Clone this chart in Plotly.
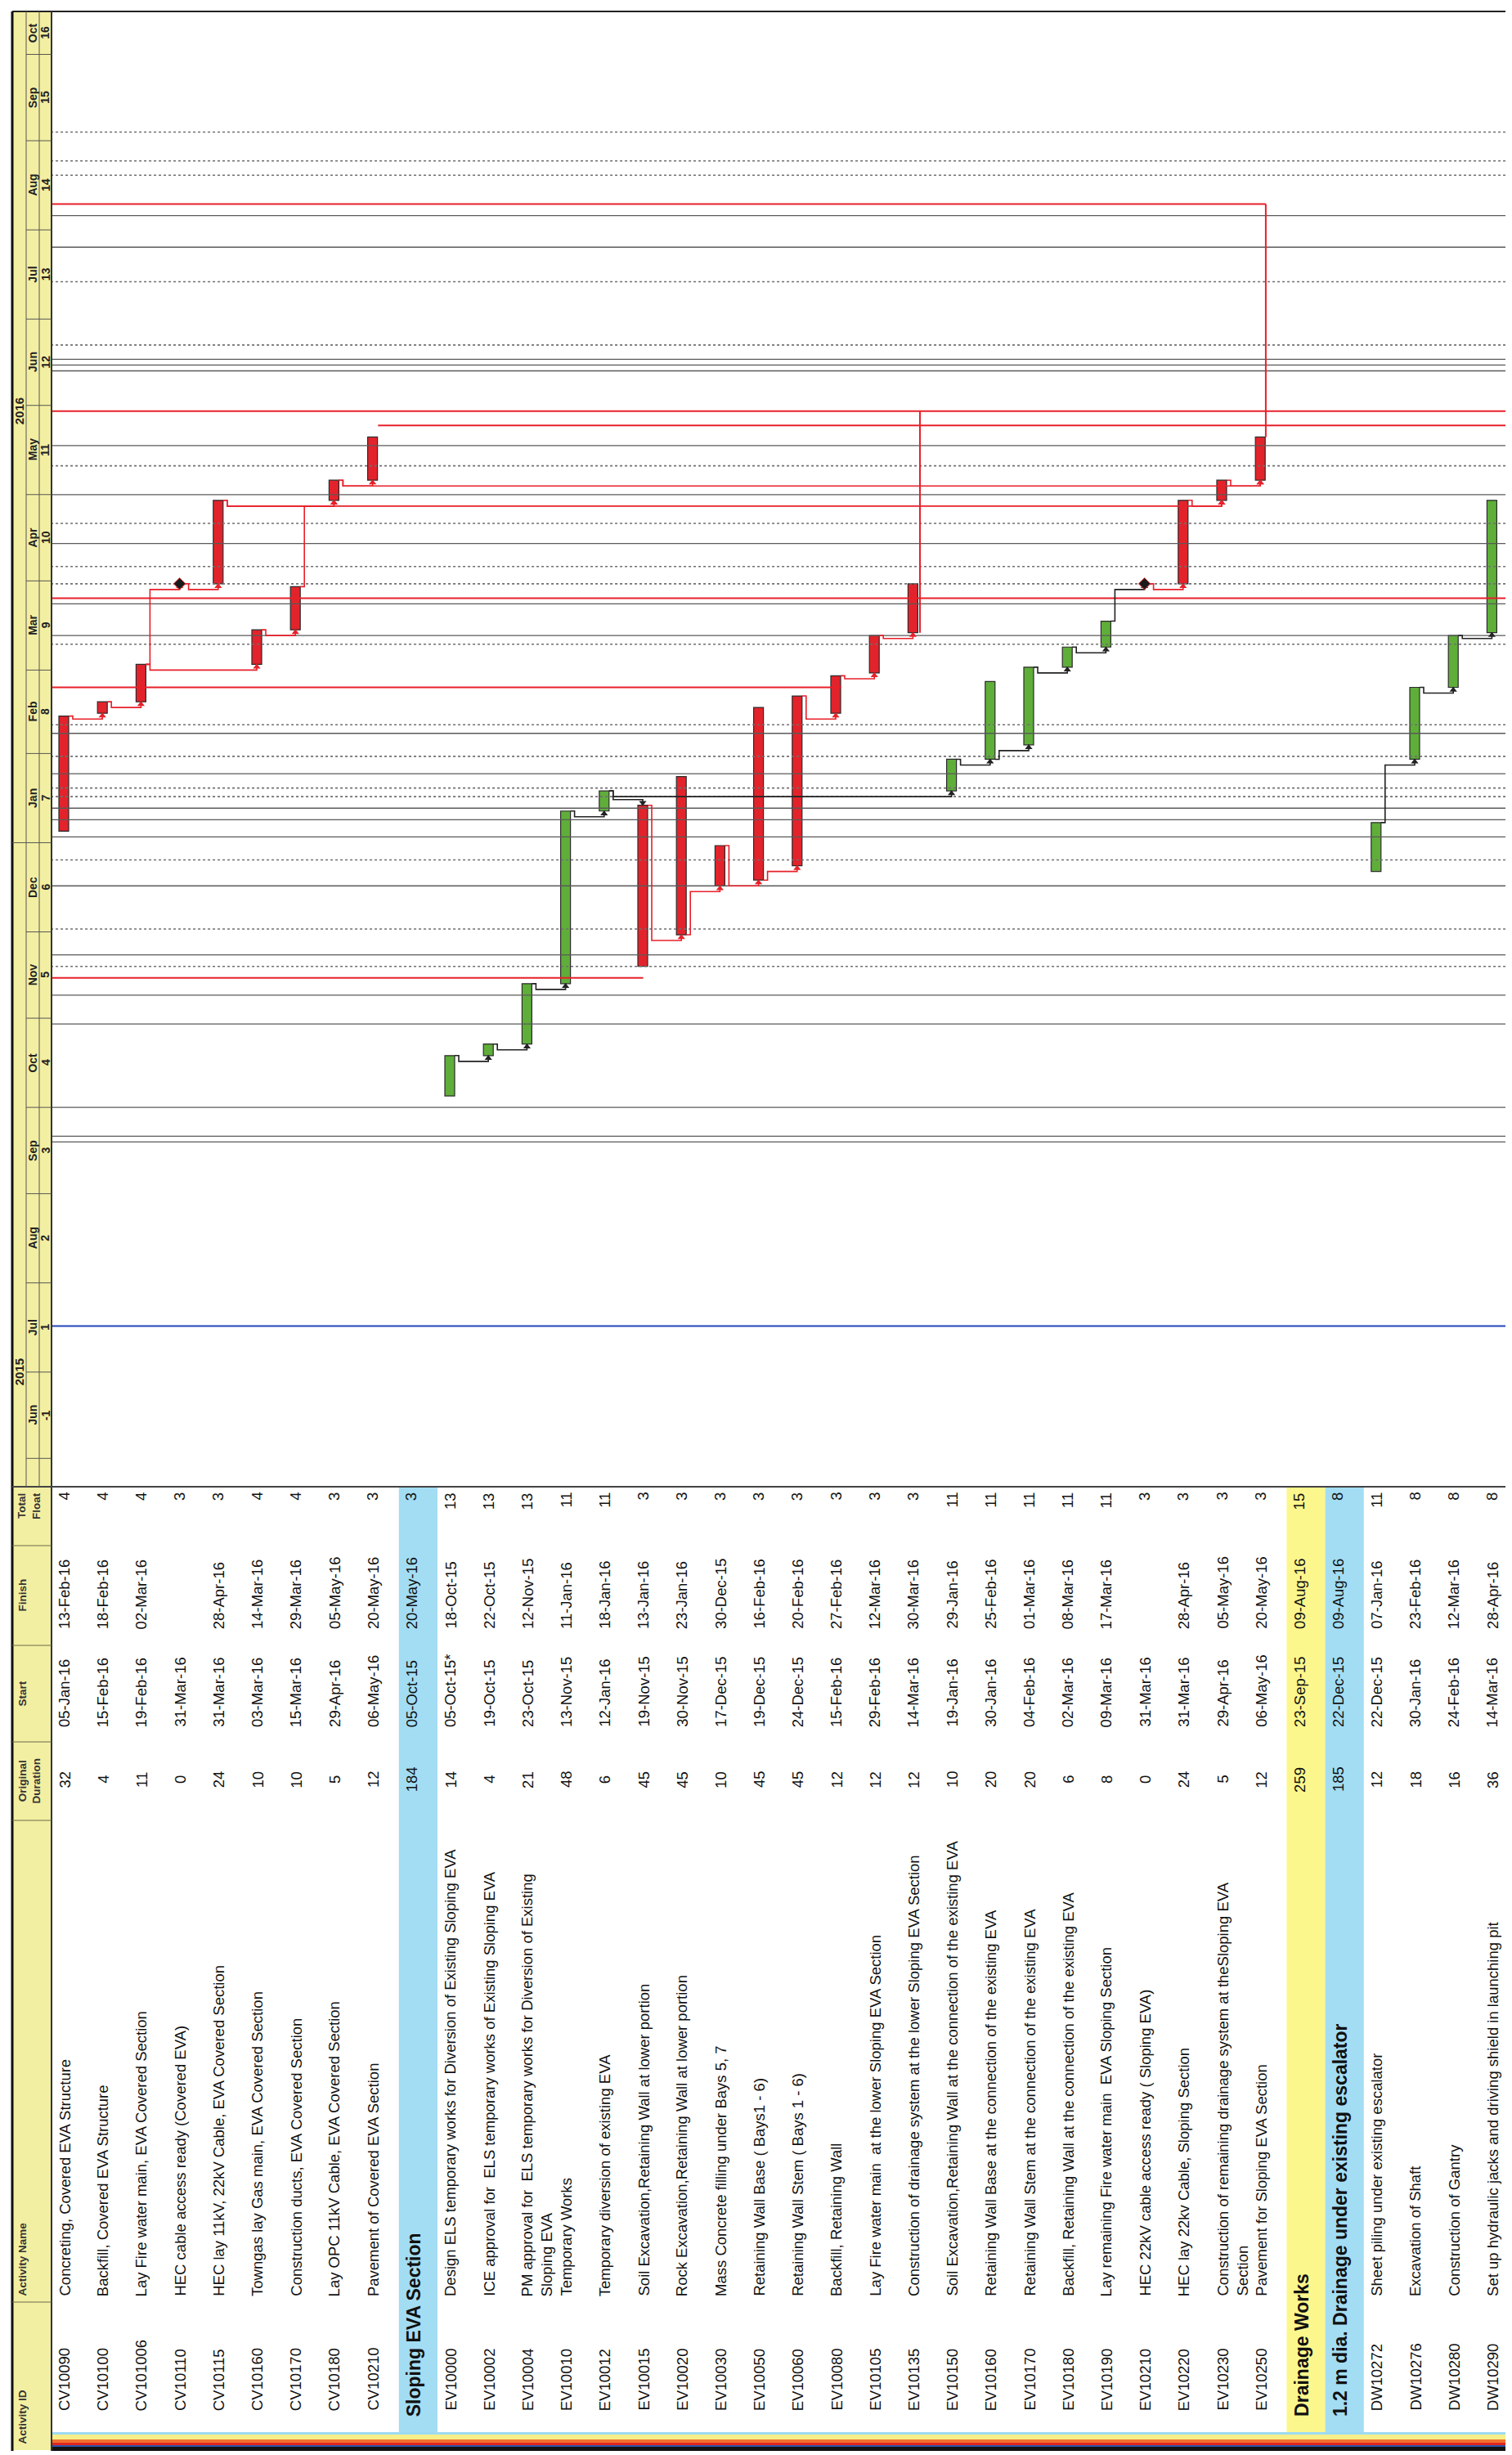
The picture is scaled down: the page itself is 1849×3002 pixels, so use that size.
import plotly.graph_objects as go
from datetime import datetime, timedelta

# ---------------- data ----------------
activity_ids = ["CV10090", "CV10100", "CV101006", "CV10110", "CV10115", "CV10160", "CV10170",
                "CV10180", "CV10210", "", "EV10000", "EV10002", "EV10004", "EV10010", "EV10012",
                "EV10015", "EV10020", "EV10030", "EV10050", "EV10060", "EV10080", "EV10105",
                "EV10135", "EV10150", "EV10160", "EV10170", "EV10180", "EV10190", "EV10210",
                "EV10220", "EV10230", "EV10250", "", "", "DW10272", "DW10276", "DW10280", "DW10290"]

activity_names = [
    "Concreting, Covered EVA Structure",
    "Backfill, Covered EVA Structure",
    "Lay Fire water main, EVA Covered Section",
    "HEC cable access ready (Covered EVA)",
    "HEC lay 11kV, 22kV Cable, EVA Covered Section",
    "Towngas lay Gas main, EVA Covered Section",
    "Construction ducts, EVA Covered Section",
    "Lay OPC 11kV Cable, EVA Covered Section",
    "Pavement of Covered EVA Section",
    "Sloping EVA Section",
    "Design ELS temporary works for Diversion of Existing Sloping EVA",
    "ICE approval for  ELS temporary works of Existing Sloping EVA",
    "PM approval for  ELS temporary works for Diversion of Existing<br>Sloping EVA",
    "Temporary Works",
    "Temporary diversion of existing EVA",
    "Soil Excavation,Retaining Wall at lower portion",
    "Rock Excavation,Retaining Wall at lower portion",
    "Mass Concrete filling under Bays 5, 7",
    "Retaining Wall Base ( Bays1 - 6)",
    "Retaining Wall Stem ( Bays 1 - 6)",
    "Backfill, Retaining Wall",
    "Lay Fire water main  at the lower Sloping EVA Section",
    "Construction of drainage system at the lower Sloping EVA Section",
    "Soil Excavation,Retaining Wall at the connection of the existing EVA",
    "Retaining Wall Base at the connection of the existing EVA",
    "Retaining Wall Stem at the connection of the existing EVA",
    "Backfill, Retaining Wall at the connection of the existing EVA",
    "Lay remaining Fire water main  EVA Sloping Section",
    "HEC 22kV cable access ready ( Sloping EVA)",
    "HEC lay 22kv Cable, Sloping Section",
    "Construction of remaining drainage system at theSloping EVA<br>Section",
    "Pavement for Sloping EVA Section",
    "Drainage Works",
    "1.2 m dia. Drainage under existing escalator",
    "Sheet piling under existing escalator",
    "Excavation of Shaft",
    "Construction of Gantry",
    "Set up hydraulic jacks and driving shield in launching pit",
]

row_levels = (["act"] * 9 + ["wbs2"] + ["act"] * 22 + ["wbs1", "wbs2"] + ["act"] * 4)

orig_durations = [32, 4, 11, 0, 24, 10, 10, 5, 12, 184, 14, 4, 21, 48, 6, 45, 45, 10, 45, 45,
                  12, 12, 12, 10, 20, 20, 6, 8, 0, 24, 5, 12, 259, 185, 12, 18, 16, 36]

start_dates = ["05-Jan-16", "15-Feb-16", "19-Feb-16", "31-Mar-16", "31-Mar-16", "03-Mar-16",
               "15-Mar-16", "29-Apr-16", "06-May-16", "05-Oct-15", "05-Oct-15*", "19-Oct-15",
               "23-Oct-15", "13-Nov-15", "12-Jan-16", "19-Nov-15", "30-Nov-15", "17-Dec-15",
               "19-Dec-15", "24-Dec-15", "15-Feb-16", "29-Feb-16", "14-Mar-16", "19-Jan-16",
               "30-Jan-16", "04-Feb-16", "02-Mar-16", "09-Mar-16", "31-Mar-16", "31-Mar-16",
               "29-Apr-16", "06-May-16", "23-Sep-15", "22-Dec-15", "22-Dec-15", "30-Jan-16",
               "24-Feb-16", "14-Mar-16"]

finish_dates = ["13-Feb-16", "18-Feb-16", "02-Mar-16", "", "28-Apr-16", "14-Mar-16",
                "29-Mar-16", "05-May-16", "20-May-16", "20-May-16", "18-Oct-15", "22-Oct-15",
                "12-Nov-15", "11-Jan-16", "18-Jan-16", "13-Jan-16", "23-Jan-16", "30-Dec-15",
                "16-Feb-16", "20-Feb-16", "27-Feb-16", "12-Mar-16", "30-Mar-16", "29-Jan-16",
                "25-Feb-16", "01-Mar-16", "08-Mar-16", "17-Mar-16", "", "28-Apr-16",
                "05-May-16", "20-May-16", "09-Aug-16", "09-Aug-16", "07-Jan-16", "23-Feb-16",
                "12-Mar-16", "28-Apr-16"]

total_floats = [4, 4, 4, 3, 3, 4, 4, 3, 3, 3, 13, 13, 13, 11, 11, 3, 3, 3, 3, 3, 3, 3, 3,
                11, 11, 11, 11, 11, 3, 3, 3, 3, 15, 8, 11, 8, 8, 8]

# relationships (predecessor, successor, type)
relationships = [
    ("CV10090", "CV10100", "FS"), ("CV10100", "CV101006", "FS"), ("CV101006", "CV10110", "FS"),
    ("CV101006", "CV10160", "FS"), ("CV10110", "CV10115", "FS"), ("CV10160", "CV10170", "FS"),
    ("CV10115", "CV10180", "FS"), ("CV10170", "CV10180", "FS"), ("CV10180", "CV10210", "FS"),
    ("CV10115", "EV10230", "FS"), ("CV10180", "EV10250", "FS"),
    ("EV10000", "EV10002", "FS"), ("EV10002", "EV10004", "FS"), ("EV10004", "EV10010", "FS"),
    ("EV10010", "EV10012", "FS"), ("EV10012", "EV10015", "FF"), ("EV10012", "EV10150", "FS"),
    ("EV10015", "EV10020", "FS"), ("EV10020", "EV10030", "SS"), ("EV10030", "EV10050", "FS"),
    ("EV10050", "EV10060", "SS"), ("EV10060", "EV10080", "FS"), ("EV10080", "EV10105", "FS"),
    ("EV10105", "EV10135", "FS"), ("EV10150", "EV10160", "FS"), ("EV10160", "EV10170", "SS"),
    ("EV10170", "EV10180", "FS"), ("EV10180", "EV10190", "FS"), ("EV10190", "EV10210", "FS"),
    ("EV10210", "EV10220", "FS"), ("EV10220", "EV10230", "FS"), ("EV10230", "EV10250", "FS"),
    ("DW10272", "DW10276", "FS"), ("DW10276", "DW10280", "FS"), ("DW10280", "DW10290", "FS"),
]

# timescale
month_names = ["Jun", "Jul", "Aug", "Sep", "Oct", "Nov", "Dec", "Jan", "Feb", "Mar", "Apr",
               "May", "Jun", "Jul", "Aug", "Sep", "Oct"]
month_numbers = ["-1", "1", "2", "3", "4", "5", "6", "7", "8", "9", "10", "11", "12", "13",
                 "14", "15", "16"]
month_starts = ["2015-06-01", "2015-07-01", "2015-08-01", "2015-09-01", "2015-10-01",
                "2015-11-01", "2015-12-01", "2016-01-01", "2016-02-01", "2016-03-01",
                "2016-04-01", "2016-05-01", "2016-06-01", "2016-07-01", "2016-08-01",
                "2016-09-01", "2016-10-01", "2016-11-01"]
year_labels = ["2015", "2016"]
year_label_dates = ["2015-07-01", "2016-05-30"]
year_breaks = ["2016-01-01"]
data_date = "2015-07-17"

# links running off the page (dates)
offpage_solid = ["2016-08-06", "2016-07-26", "2016-06-17", "2016-06-15", "2016-06-13",
                 "2016-05-18", "2016-05-01", "2016-04-14", "2016-03-24", "2016-03-13",
                 "2016-02-08", "2016-01-25", "2016-01-13", "2016-01-09", "2016-01-03",
                 "2015-12-17", "2015-11-23", "2015-11-09", "2015-10-30", "2015-10-01",
                 "2015-09-21", "2015-09-19"]
offpage_dotted = ["2016-09-04", "2016-08-25", "2016-08-20", "2016-07-14", "2016-06-22",
                  "2016-05-11", "2016-04-21", "2016-04-06", "2016-03-31", "2016-03-10",
                  "2016-02-11", "2016-01-31", "2016-01-20", "2016-01-17", "2015-12-26",
                  "2015-12-02", "2015-11-19"]
# critical horizontal links: (date, from row, to row)
offpage_red_h = [("2016-08-10", -0.02, 31.46), ("2016-05-30", -0.02, 38.01),
                 ("2016-05-25", 8.46, 38.01), ("2016-03-26", -0.02, 38.01),
                 ("2016-02-24", -0.02, 20.46), ("2015-11-15", -0.02, 15.33)]
# critical vertical links: (row, from date, to date)
offpage_red_v = [(31.46, "2016-05-21", "2016-08-10"), (22.5, "2016-03-14", "2016-05-30")]

# ---------------- layout constants ----------------
W, H = 1849, 3002
ROW_X0, ROW_W = 55.0, 47.2
REF_DATE, REF_PIX, PX_PER_DAY = datetime(2015, 7, 16), 1617.0, 3.518
TOP_PIX, GANTT_BOTTOM, TABLE_BOTTOM = 6.0, 1810.0, 2967.0
BAR_OFF, BAR_W = 15.0 / ROW_W, 12.0 / ROW_W
RED, GREEN = "#E3232B", "#5FAE3A"
LINK_RED = "#E8202A"
HDR_YELLOW, BAND_BLUE, BAND_YELLOW = "#F3EFA2", "#A3DDF4", "#FCF78C"
FONT = "Liberation Sans, Arial, sans-serif"
NARROW = "Liberation Sans Narrow, Liberation Sans, Arial, sans-serif"
TXT = 18.5


def pdate(s):
    return datetime.strptime(s.rstrip("*"), "%d-%b-%y")


def iso(d):
    return d.strftime("%Y-%m-%d %H:%M:%S")


def pix2date(p):
    return REF_DATE + timedelta(days=(REF_PIX - p) / PX_PER_DAY)


def py(p):
    return 1 - p / H


def pxp(p):
    return p / W


VIEW_LO, VIEW_HI = pix2date(GANTT_BOTTOM), pix2date(TOP_PIX)

fig = go.Figure()
shapes, annotations = [], []

# ---------------- backgrounds / frames ----------------
shapes.append(dict(type="rect", xref="paper", yref="paper", x0=pxp(7), x1=pxp(55),
                   y0=py(2988), y1=py(TOP_PIX), fillcolor=HDR_YELLOW, line_width=0, layer="below"))
for i, lvl in enumerate(row_levels):
    if lvl == "act":
        continue
    col = BAND_YELLOW if lvl == "wbs1" else BAND_BLUE
    shapes.append(dict(type="rect", xref="x", yref="paper", x0=i, x1=i + 1,
                       y0=py(TABLE_BOTTOM), y1=py(GANTT_BOTTOM), fillcolor=col, line_width=0,
                       layer="below"))

# bottom colour stripes
for y0, y1, c in [(2966, 2969, "#9EDBF2"), (2969, 2975, "#F6EF8A"), (2975, 2979, "#F0702E"),
                  (2979, 2982, "#E0261E"), (2982, 2984, "#2A55A8"), (2984, 2989, "#111111")]:
    shapes.append(dict(type="rect", xref="paper", yref="paper", x0=pxp(55), x1=1,
                       y0=py(y1), y1=py(y0), fillcolor=c, line_width=0))

# frame lines
shapes += [
    dict(type="line", xref="paper", yref="paper", x0=pxp(7), x1=1, y0=py(TOP_PIX), y1=py(TOP_PIX),
         line=dict(color="#222", width=2)),
    dict(type="line", xref="paper", yref="paper", x0=pxp(7), x1=pxp(7), y0=py(TOP_PIX), y1=py(2989),
         line=dict(color="#111", width=3)),
    dict(type="line", xref="paper", yref="paper", x0=pxp(55), x1=pxp(55), y0=py(TOP_PIX),
         y1=py(2989), line=dict(color="#333", width=2)),
    dict(type="line", xref="paper", yref="paper", x0=pxp(7), x1=1, y0=py(GANTT_BOTTOM),
         y1=py(GANTT_BOTTOM), line=dict(color="#444", width=2)),
]
for p in [1882, 2004, 2122, 2218, 2807]:
    shapes.append(dict(type="line", xref="paper", yref="paper", x0=pxp(7), x1=pxp(55),
                       y0=py(p), y1=py(p), line=dict(color="#6b6b4a", width=1.2)))
for xx in [24, 40]:
    shapes.append(dict(type="line", xref="paper", yref="paper", x0=pxp(xx), x1=pxp(xx),
                       y0=py(GANTT_BOTTOM), y1=py(TOP_PIX), line=dict(color="#555", width=1)))

# ---------------- timescale header ----------------
for k, name in enumerate(month_names):
    ms = datetime.strptime(month_starts[k], "%Y-%m-%d")
    me = datetime.strptime(month_starts[k + 1], "%Y-%m-%d")
    lo, hi = max(ms, VIEW_LO), min(me, VIEW_HI)
    mid = lo + (hi - lo) / 2
    annotations.append(dict(text="<b>%s</b>" % name, x=pxp(32), xref="paper", y=iso(mid),
                            yref="y", textangle=-90, showarrow=False, xanchor="center",
                            yanchor="middle", font=dict(family=NARROW, size=14, color="#222")))
    annotations.append(dict(text="<b>%s</b>" % month_numbers[k], x=pxp(47.5), xref="paper",
                            y=iso(mid), yref="y", textangle=-90, showarrow=False,
                            xanchor="center", yanchor="middle",
                            font=dict(family=NARROW, size=14, color="#222")))
    shapes.append(dict(type="line", xref="paper", yref="y", x0=pxp(24), x1=pxp(55),
                       y0=month_starts[k], y1=month_starts[k], line=dict(color="#555", width=1)))
for lab, d in zip(year_labels, year_label_dates):
    annotations.append(dict(text="<b>%s</b>" % lab, x=pxp(15.5), xref="paper", y=d, yref="y",
                            textangle=-90, showarrow=False, xanchor="center", yanchor="middle",
                            font=dict(family=NARROW, size=15, color="#222")))
for d in year_breaks:
    shapes.append(dict(type="line", xref="paper", yref="y", x0=pxp(7), x1=pxp(24), y0=d, y1=d,
                       line=dict(color="#555", width=1)))

# ---------------- table header ----------------
def hdr(text, ypix, yanchor, align="left"):
    annotations.append(dict(text="<b>%s</b>" % text, x=pxp(9), xref="paper", y=py(ypix),
                            yref="paper", textangle=-90, showarrow=False, xanchor="left",
                            yanchor=yanchor, align=align,
                            font=dict(family=NARROW, size=13.5, color="#333")))


hdr("Activity ID", 2983, "bottom")
hdr("Activity Name", 2802, "bottom")
hdr("Original<br>Duration", 2170, "middle", "center")
hdr("Start", 2063, "middle", "center")
hdr("Finish", 1943, "middle", "center")
hdr("Total<br>Float", 1815, "top", "right")

# ---------------- table body ----------------
for i in range(len(activity_ids)):
    band = row_levels[i] != "act"
    xl = i + 3 / ROW_W
    if band:
        annotations.append(dict(text="<b>%s</b>" % activity_names[i], x=xl, xref="x",
                                y=py(2949), yref="paper", textangle=-90, showarrow=False,
                                xanchor="left", yanchor="bottom",
                                font=dict(family=FONT, size=23, color="#111")))
    else:
        annotations.append(dict(text=activity_ids[i], x=xl, xref="x", y=py(2942), yref="paper",
                                textangle=-90, showarrow=False, xanchor="left",
                                yanchor="bottom", font=dict(family=FONT, size=TXT, color="#111")))
        annotations.append(dict(text=activity_names[i], x=xl, xref="x", y=py(2802),
                                yref="paper", textangle=-90, showarrow=False, xanchor="left",
                                yanchor="bottom", align="left",
                                font=dict(family=FONT, size=TXT, color="#111")))
    annotations.append(dict(text=str(orig_durations[i]), x=xl, xref="x", y=py(2168),
                            yref="paper", textangle=-90, showarrow=False, xanchor="left",
                            yanchor="middle", font=dict(family=FONT, size=TXT, color="#111")))
    annotations.append(dict(text=start_dates[i], x=xl, xref="x", y=py(2106), yref="paper",
                            textangle=-90, showarrow=False, xanchor="left", yanchor="bottom",
                            font=dict(family=FONT, size=TXT, color="#111")))
    if finish_dates[i]:
        annotations.append(dict(text=finish_dates[i], x=xl, xref="x", y=py(1986), yref="paper",
                                textangle=-90, showarrow=False, xanchor="left",
                                yanchor="bottom", font=dict(family=FONT, size=TXT, color="#111")))
    annotations.append(dict(text=str(total_floats[i]), x=xl, xref="x", y=py(1815), yref="paper",
                            textangle=-90, showarrow=False, xanchor="left", yanchor="top",
                            font=dict(family=FONT, size=TXT, color="#111")))

# ---------------- off-page link lines ----------------
XL, XR = -0.02, (W - ROW_X0) / ROW_W


def hlines(dates):
    xs, ys = [], []
    for d in dates:
        xs += [XL, XR, None]
        ys += [d, d, None]
    return xs, ys


xs, ys = hlines(offpage_solid)
fig.add_trace(go.Scatter(x=xs, y=ys, mode="lines", line=dict(color="#5a5a5a", width=1.3),
                         hoverinfo="skip"))
xs, ys = hlines(offpage_dotted)
fig.add_trace(go.Scatter(x=xs, y=ys, mode="lines",
                         line=dict(color="#6f6f6f", width=1.6, dash="dot"), hoverinfo="skip"))
xs, ys = [], []
for d, a, b in offpage_red_h:
    xs += [a, b, None]
    ys += [d, d, None]
for r, a, b in offpage_red_v:
    xs += [r, r, None]
    ys += [a, b, None]
fig.add_trace(go.Scatter(x=xs, y=ys, mode="lines", line=dict(color=LINK_RED, width=2),
                         hoverinfo="skip"))
fig.add_trace(go.Scatter(x=[XL, XR], y=[data_date, data_date], mode="lines",
                         line=dict(color="#2244B8", width=2), hoverinfo="skip"))

# ---------------- relationship connectors ----------------
idx = {a: i for i, a in enumerate(activity_ids) if a}


def act_dates(i):
    s = pdate(start_dates[i])
    f = pdate(finish_dates[i]) + timedelta(days=1) if finish_dates[i] else s
    return s, f


def critical(i):
    return total_floats[i] <= 4


conn = {"red": ([], []), "black": ([], [])}
arrows = {"red": ([], [], []), "black": ([], [], [])}
for p, s, typ in relationships:
    pi, si = idx[p], idx[s]
    ps, pf = act_dates(pi)
    ss, sf = act_dates(si)
    key = "red" if critical(pi) and critical(si) else "black"
    xr = pi + BAR_OFF + BAR_W / 2
    xstub = xr + 5 / ROW_W
    xs_c = si + BAR_OFF
    if typ == "FF":
        y_from, y_to = pf, sf
        level = sf + timedelta(days=2)
        sym = "triangle-down"
        ya = sf + timedelta(days=0.9)
    else:
        y_from = ps if typ == "SS" else pf
        y_to = ss
        level = ss - timedelta(days=2)
        sym = "triangle-up"
        ya = ss - timedelta(days=0.9)
    X, Y = conn[key]
    X += [xr, xstub, xstub, xs_c, xs_c, None]
    Y += [iso(y_from), iso(y_from), iso(level), iso(level), iso(y_to), None]
    A = arrows[key]
    A[0].append(xs_c)
    A[1].append(iso(ya))
    A[2].append(sym)
for key, col in [("black", "#222"), ("red", LINK_RED)]:
    X, Y = conn[key]
    fig.add_trace(go.Scatter(x=X, y=Y, mode="lines", line=dict(color=col, width=1.6),
                             hoverinfo="skip"))
    A = arrows[key]
    fig.add_trace(go.Scatter(x=A[0], y=A[1], mode="markers",
                             marker=dict(symbol=A[2], size=8, color=col), hoverinfo="skip"))

# ---------------- activity bars ----------------
bx, by, bbase, bcol = [], [], [], []
mx, my, mcol = [], [], []
for i in range(len(activity_ids)):
    if row_levels[i] != "act":
        continue
    s, f = act_dates(i)
    col = RED if critical(i) else GREEN
    if finish_dates[i]:
        bx.append(i + BAR_OFF)
        bbase.append(iso(s))
        by.append((f - s).total_seconds() * 1000)
        bcol.append(col)
    else:
        mx.append(i + BAR_OFF)
        my.append(iso(s))
        mcol.append("#1a1a1a")
fig.add_trace(go.Bar(x=bx, y=by, base=bbase, width=BAR_W, marker=dict(
    color=bcol, line=dict(color="#2b2b2b", width=1.2)), hoverinfo="skip"))
fig.add_trace(go.Scatter(x=mx, y=my, mode="markers", marker=dict(
    symbol="diamond", size=11, color=mcol, line=dict(color="#E3232B", width=1)),
    hoverinfo="skip"))

fig.update_layout(
    width=W, height=H, margin=dict(l=0, r=0, t=0, b=0),
    paper_bgcolor="white", plot_bgcolor="rgba(0,0,0,0)", showlegend=False, barmode="overlay",
    xaxis=dict(range=[-ROW_X0 / ROW_W, (W - ROW_X0) / ROW_W], domain=[0, 1], visible=False,
               fixedrange=True),
    yaxis=dict(type="date", range=[iso(pix2date(GANTT_BOTTOM)), iso(pix2date(0))],
               domain=[py(GANTT_BOTTOM), 1], visible=False, fixedrange=True),
    shapes=shapes, annotations=annotations,
)
fig.write_html("out.html")
